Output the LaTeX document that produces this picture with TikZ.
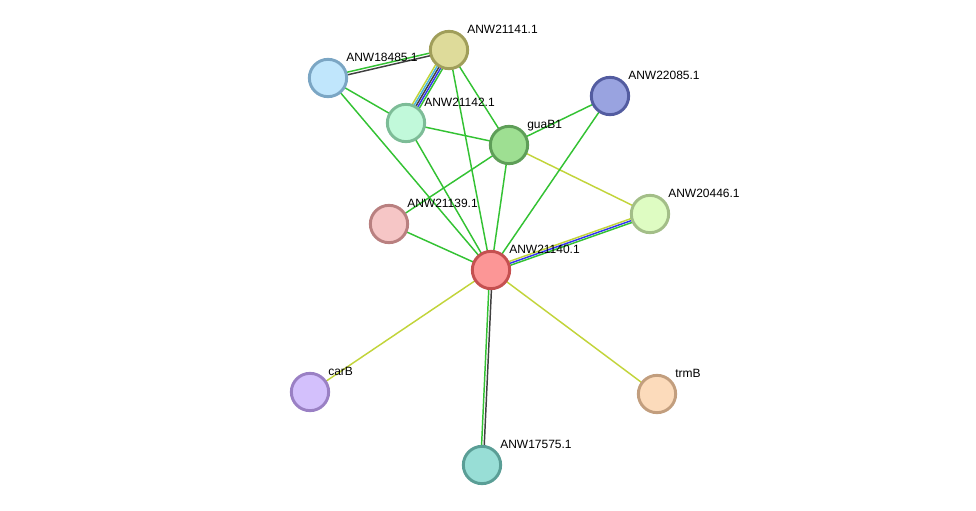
\documentclass[tikz,border=0pt]{standalone}
\usepackage{fontspec}
\setmainfont{Liberation Sans}
\usetikzlibrary{calc,backgrounds}

\definecolor{lgreen}{HTML}{33C233}
\definecolor{lyellow}{HTML}{C2D43A}
\definecolor{lblue}{HTML}{3333F0}
\definecolor{lcyan}{HTML}{44B4DC}
\definecolor{lblack}{HTML}{404040}

\tikzset{
  prot/.style={circle, line width=2.2pt, minimum size=28pt, inner sep=0pt},
  lbl/.style={anchor=base west, font=\fontsize{9}{10}\selectfont, inner sep=0pt},
  ln/.style={line width=1.1pt}
}

% one band of a (possibly multi-coloured) link
\newcommand{\Ln}[4]{\draw[ln,#4] ($(#1)!#3!90:(#2)$) -- ($(#2)!#3!-90:(#1)$);}

\begin{document}
\begin{tikzpicture}[x=0.75pt,y=-0.75pt]
  \useasboundingbox (0,0) rectangle (976,511);

  \node[prot, fill={rgb,255:red,222;green,219;blue,154}, draw={rgb,255:red,160;green,158;blue,90}] (n41) at (449,50) {};
  \node[prot, fill={rgb,255:red,192;green,230;blue,252}, draw={rgb,255:red,123;green,166;blue,196}] (n85) at (328,78) {};
  \node[prot, fill={rgb,255:red,193;green,249;blue,218}, draw={rgb,255:red,125;green,188;blue,151}] (n42) at (406,123) {};
  \node[prot, fill={rgb,255:red,158;green,223;blue,146}, draw={rgb,255:red,94;green,158;blue,88}] (guab) at (509,145) {};
  \node[prot, fill={rgb,255:red,153;green,163;blue,224}, draw={rgb,255:red,83;green,92;blue,160}] (n22) at (610,96) {};
  \node[prot, fill={rgb,255:red,222;green,252;blue,194}, draw={rgb,255:red,163;green,190;blue,136}] (n46) at (650,214) {};
  \node[prot, fill={rgb,255:red,246;green,198;blue,198}, draw={rgb,255:red,185;green,128;blue,128}] (n39) at (389,224) {};
  \node[prot, fill={rgb,255:red,252;green,150;blue,150}, draw={rgb,255:red,197;green,80;blue,80}] (n40) at (491,270) {};
  \node[prot, fill={rgb,255:red,211;green,192;blue,252}, draw={rgb,255:red,154;green,128;blue,196}] (carb) at (310,392) {};
  \node[prot, fill={rgb,255:red,252;green,219;blue,187}, draw={rgb,255:red,194;green,158;blue,126}] (trmb) at (657,394) {};
  \node[prot, fill={rgb,255:red,152;green,222;blue,214}, draw={rgb,255:red,90;green,158;blue,150}] (n75) at (482,465) {};

  \node[lbl] at ($(n41)+(18,-17)$) {ANW21141.1};
  \node[lbl] at ($(n85)+(18,-17)$) {ANW18485.1};
  \node[lbl] at ($(n42)+(18,-17)$) {ANW21142.1};
  \node[lbl] at ($(guab)+(18,-17)$) {guaB1};
  \node[lbl] at ($(n22)+(18,-17)$) {ANW22085.1};
  \node[lbl] at ($(n46)+(18,-17)$) {ANW20446.1};
  \node[lbl] at ($(n39)+(18,-17)$) {ANW21139.1};
  \node[lbl] at ($(n40)+(18,-17)$) {ANW21140.1};
  \node[lbl] at ($(carb)+(18,-17)$) {carB};
  \node[lbl] at ($(trmb)+(18,-17)$) {trmB};
  \node[lbl] at ($(n75)+(18,-17)$) {ANW17575.1};

  \begin{pgfonlayer}{background}
    \Ln{n41}{n85}{-1pt}{lgreen}
    \Ln{n41}{n85}{1pt}{lblack}
    \Ln{n41}{n42}{-3pt}{lyellow}
    \Ln{n41}{n42}{-1.5pt}{lcyan}
    \Ln{n41}{n42}{0pt}{lblack}
    \Ln{n41}{n42}{1.5pt}{lblue}
    \Ln{n41}{n42}{3pt}{lgreen}
    \Ln{n41}{n40}{0pt}{lgreen}
    \Ln{n41}{guab}{0pt}{lgreen}
    \Ln{n85}{n42}{0pt}{lgreen}
    \Ln{n85}{n40}{0pt}{lgreen}
    \Ln{n42}{guab}{0pt}{lgreen}
    \Ln{n42}{n40}{0pt}{lgreen}
    \Ln{guab}{n22}{0pt}{lgreen}
    \Ln{guab}{n46}{0pt}{lyellow}
    \Ln{guab}{n39}{0pt}{lgreen}
    \Ln{guab}{n40}{0pt}{lgreen}
    \Ln{n22}{n40}{0pt}{lgreen}
    \Ln{n39}{n40}{0pt}{lgreen}
    \Ln{n40}{n46}{1.5pt}{lyellow}
    \Ln{n40}{n46}{0pt}{lblue}
    \Ln{n40}{n46}{-1.5pt}{lgreen}
    \Ln{n40}{carb}{0pt}{lyellow}
    \Ln{n40}{trmb}{0pt}{lyellow}
    \Ln{n40}{n75}{-1pt}{lgreen}
    \Ln{n40}{n75}{1pt}{lblack}
  \end{pgfonlayer}

\end{tikzpicture}
\end{document}
